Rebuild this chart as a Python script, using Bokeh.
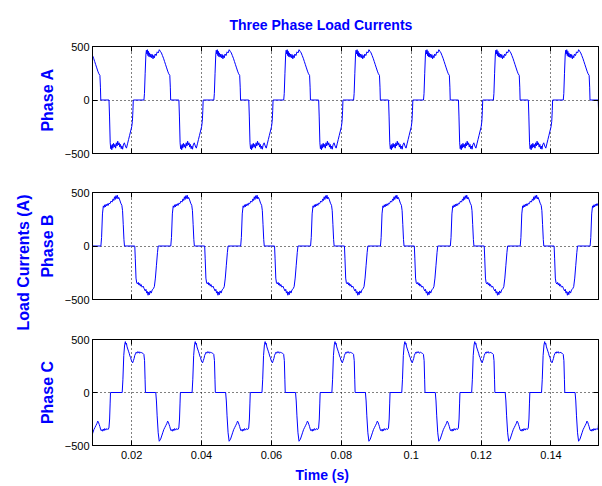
from bokeh.plotting import figure
from bokeh.layouts import column
from bokeh.models import Range1d, FixedTicker, LinearAxis, Title
from bokeh.embed import file_html
from bokeh.resources import INLINE

# ---------------- data ----------------
title_text = "Three Phase Load Currents"
y_labels = ["Phase A", "Phase B", "Phase C"]
common_ylabel = "Load Currents (A)"
x_label = "Time (s)"
x_ticks = [0.02, 0.04, 0.06, 0.08, 0.10, 0.12, 0.14]
x_tick_labels = ["0.02", "0.04", "0.06", "0.08", "0.1", "0.12", "0.14"]
y_ticks = [-500, 0, 500]
x_limits = [0.0088, 0.1536]
y_limits = [-500, 500]

# start time (s) of each 50 Hz cycle (rising edge out of the zero step)
phase_a_starts = [-0.01648, 0.00352, 0.02352, 0.04352, 0.06352, 0.08352, 0.10352, 0.12352, 0.14352]
phase_b_starts = [-0.0088, 0.0112, 0.0312, 0.0512, 0.0712, 0.0912, 0.1112, 0.1312, 0.1512]
phase_c_starts = [-0.0027, 0.0173, 0.0373, 0.0573, 0.0773, 0.0973, 0.1173, 0.1373]

# one cycle of each phase: time from cycle start (ms) and current (A)
phase_a_ms = [0.0, 0.15, 0.35, 0.55, 0.7, 0.85, 1.0, 1.15, 1.3, 1.45, 1.6, 1.8, 2.0, 2.2, 2.4, 2.6, 2.8, 3.0,
              3.2, 3.5, 3.8, 4.1, 4.4, 4.7, 5.0, 5.3, 5.6, 5.9, 6.2, 6.5, 6.8, 7.1, 7.4, 7.55, 7.65,
              10.0, 10.15, 10.35, 10.5, 10.65, 10.8, 10.95, 11.1, 11.3, 11.5, 11.7, 11.9, 12.1, 12.3, 12.5,
              12.7, 12.9, 13.1, 13.3, 13.5, 13.7, 13.9, 14.1, 14.4, 14.7, 15.0, 15.3, 15.6, 15.9, 16.2,
              16.5, 16.7, 16.85, 16.95, 20.0]
phase_a_val = [0, 60, 250, 420, 465, 430, 470, 415, 455, 405, 440, 400, 430, 395, 425, 385, 415, 395,
               430, 415, 450, 440, 470, 455, 440, 415, 390, 360, 330, 300, 270, 245, 230, 120, 0,
               0, -150, -400, -455, -425, -465, -415, -450, -405, -440, -415, -450, -400, -430, -385,
               -420, -400, -440, -415, -455, -430, -460, -420, -400, -430, -450, -410, -370, -330, -290,
               -250, -200, -100, 0, 0]

phase_b_ms = [0.0, 0.2, 0.45, 0.7, 0.9, 1.1, 1.3, 1.5, 1.7, 1.9, 2.1, 2.3, 2.6, 2.9, 3.2, 3.5, 3.7, 3.9,
              4.1, 4.3, 4.5, 4.7, 4.9, 5.1, 5.4, 5.7, 6.0, 6.2, 6.4, 6.6, 6.75,
              9.7, 9.85, 10.05, 10.25, 10.5, 10.7, 10.9, 11.1, 11.3, 11.5, 11.8, 12.1, 12.4, 12.7, 12.9,
              13.1, 13.3, 13.5, 13.7, 13.9, 14.1, 14.4, 14.7, 15.0, 15.3, 15.6, 15.9, 16.2, 16.4, 20.0]
phase_b_val = [0, 80, 300, 375, 360, 385, 365, 390, 375, 395, 380, 400, 395, 420, 410, 440, 425, 460,
               435, 470, 445, 475, 440, 455, 430, 400, 380, 330, 200, 60, 0,
               0, -120, -300, -345, -355, -340, -365, -350, -375, -360, -385, -375, -400, -420, -405,
               -440, -425, -460, -430, -455, -420, -440, -410, -400, -380, -300, -180, -60, 0, 0]

phase_c_ms = [0.0, 0.2, 0.45, 0.7, 0.9, 1.05, 1.2, 1.4, 1.6, 1.8, 2.0, 2.2, 2.4, 2.6, 2.8, 3.0, 3.2, 3.4,
              3.6, 3.8, 4.0, 4.2, 4.4, 4.6, 4.8, 5.0, 5.3, 5.6, 5.9, 6.2, 6.4, 6.55, 6.65,
              9.6, 9.8, 10.0, 10.3, 10.6, 10.8, 11.0, 11.3, 11.6, 11.9, 12.2, 12.5, 12.8, 13.0, 13.2,
              13.4, 13.6, 13.8, 14.0, 14.2, 14.4, 14.6, 14.8, 15.0, 15.3, 15.6, 15.9, 16.2, 16.4, 16.55,
              16.65, 20.0]
phase_c_val = [0, 120, 350, 450, 480, 455, 465, 430, 410, 390, 370, 345, 330, 305, 290, 280, 300, 320,
               350, 365, 380, 370, 385, 375, 385, 370, 380, 375, 370, 360, 300, 120, 0,
               0, -80, -220, -380, -460, -450, -440, -410, -380, -350, -330, -310, -290, -270, -280,
               -300, -320, -345, -360, -350, -365, -345, -360, -340, -355, -340, -350, -335, -250, -100,
               0, 0]

# ---------------- styling ----------------
BLUE = "#0000ff"
FONT = "Liberation Sans"


def build(starts, ms, val):
    xs, ys = [], []
    for s in starts:
        for m, v in zip(ms, val):
            xs.append(s + m / 1000.0)
            ys.append(v)
    return xs, ys


shared_x = Range1d(x_limits[0], x_limits[1])
overrides = {t: lab for t, lab in zip(x_ticks, x_tick_labels)}


def hide_labels(ax):
    ax.major_label_text_color = None
    ax.major_label_text_font_size = "1px"
    ax.major_label_standoff = 0


def make_fig(height, top, bottom, ylabel, show_x):
    p = figure(width=602, height=height, x_range=shared_x,
               y_range=Range1d(y_limits[0], y_limits[1]),
               output_backend="svg", toolbar_location=None,
               min_border_left=92, min_border_right=4,
               min_border_top=top, min_border_bottom=bottom)
    p.background_fill_color = "white"
    p.border_fill_color = "white"
    p.outline_line_color = "black"
    p.outline_line_width = 1

    for ax in (p.xaxis[0], p.yaxis[0]):
        ax.major_tick_in = 5
        ax.major_tick_out = 0
        ax.minor_tick_line_color = None
        ax.axis_line_color = "black"
        ax.major_tick_line_color = "black"
        ax.major_label_text_font = FONT
        ax.major_label_text_font_size = "11px"
        ax.major_label_text_color = "black"
    p.xaxis.ticker = FixedTicker(ticks=x_ticks)
    p.xaxis.major_label_overrides = overrides
    p.yaxis.ticker = FixedTicker(ticks=y_ticks)
    p.yaxis.major_label_standoff = 3
    p.xaxis.major_label_standoff = 5
    if not show_x:
        hide_labels(p.xaxis[0])

    p.yaxis.axis_label = ylabel
    p.yaxis.axis_label_text_font = FONT
    p.yaxis.axis_label_text_font_style = "bold"
    p.yaxis.axis_label_text_font_size = "16px"
    p.yaxis.axis_label_text_color = BLUE
    p.yaxis.axis_label_standoff = 6

    # box ticks on top and right
    top_ax = LinearAxis(ticker=FixedTicker(ticks=x_ticks), major_tick_in=5, major_tick_out=0,
                        minor_tick_line_color=None, axis_line_color="black")
    right_ax = LinearAxis(ticker=FixedTicker(ticks=y_ticks), major_tick_in=5, major_tick_out=0,
                          minor_tick_line_color=None, axis_line_color="black")
    hide_labels(top_ax)
    hide_labels(right_ax)
    p.add_layout(top_ax, "above")
    p.add_layout(right_ax, "right")

    p.xgrid.grid_line_color = "black"
    p.xgrid.grid_line_dash = "1 3"
    p.xgrid.grid_line_alpha = 1.0
    p.ygrid.grid_line_color = "black"
    p.ygrid.grid_line_dash = "1 3"
    p.ygrid.grid_line_alpha = 1.0
    p.ygrid.ticker = FixedTicker(ticks=y_ticks)
    return p


pa = make_fig(172, 46, 19, y_labels[0], False)
pb = make_fig(160, 20, 33, y_labels[1], False)
pc = make_fig(154, 7, 41, y_labels[2], True)

for p, (st, ms, val) in zip((pa, pb, pc), ((phase_a_starts, phase_a_ms, phase_a_val),
                                           (phase_b_starts, phase_b_ms, phase_b_val),
                                           (phase_c_starts, phase_c_ms, phase_c_val))):
    xs, ys = build(st, ms, val)
    p.line(xs, ys, line_color=BLUE, line_width=1)

pa.add_layout(Title(text=title_text, align="left", offset=137, text_font=FONT,
                    text_font_style="bold", text_font_size="14px", text_color=BLUE,
                    standoff=28), "above")
pb.add_layout(Title(text=common_ylabel, align="left", offset=-31, text_font=FONT,
                    text_font_style="bold", text_font_size="16px", text_color=BLUE,
                    standoff=8), "left")
pc.add_layout(Title(text=x_label, align="left", offset=203, text_font=FONT,
                    text_font_style="bold", text_font_size="14px", text_color=BLUE,
                    standoff=6), "below")

layout = column(pa, pb, pc, spacing=0)
open("out.html", "w").write(file_html(layout, INLINE))
